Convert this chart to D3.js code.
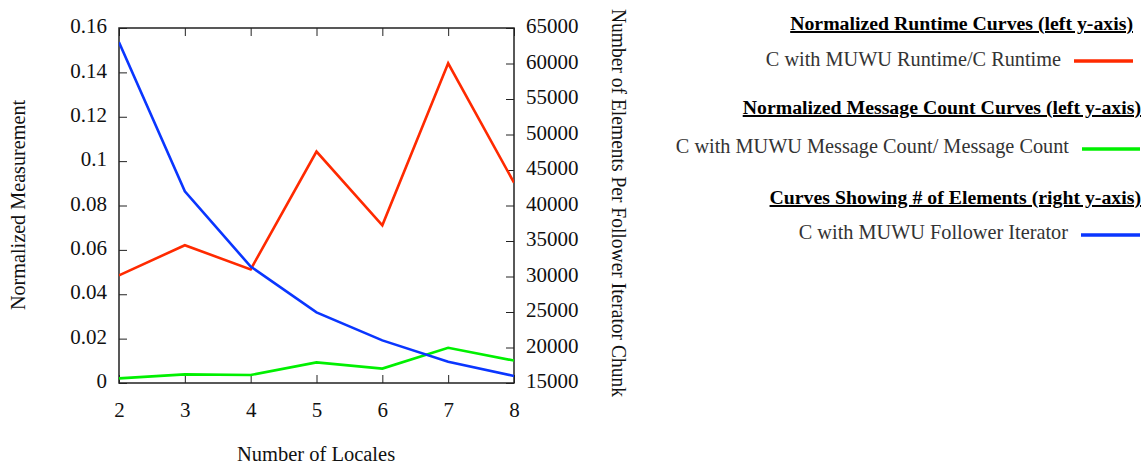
<!DOCTYPE html>
<html><head><meta charset="utf-8">
<script src="https://cdn.jsdelivr.net/npm/d3@7"></script>
<style>body{margin:0;background:#fff}svg{display:block}text{font-family:"Liberation Serif","Times New Roman",serif}</style>
</head><body><svg id="c" width="1143" height="465"></svg>
<script>
const locales = [2, 3, 4, 5, 6, 7, 8];
const runtimeRatio = [0.0485, 0.0621, 0.0512, 0.1043, 0.0711, 0.1441, 0.0903];
const messageRatio = [0.0021, 0.0039, 0.0036, 0.0093, 0.0065, 0.0159, 0.0101];
const followerElems = [63000, 42000, 31400, 24950, 21000, 18000, 15990];
const leftTicks = [0, 0.02, 0.04, 0.06, 0.08, 0.1, 0.12, 0.14, 0.16];
const rightTicks = [15000, 20000, 25000, 30000, 35000, 40000, 45000, 50000, 55000, 60000, 65000];
const legendGroups = [
  {title: "Normalized Runtime Curves (left y-axis)", label: "C with MUWU Runtime/C Runtime", color: "#ff2a00"},
  {title: "Normalized Message Count Curves (left y-axis)", label: "C with MUWU Message Count/ Message Count", color: "#00f000"},
  {title: "Curves Showing # of Elements (right y-axis)", label: "C with MUWU Follower Iterator", color: "#0a36ff"}
];

const svg = d3.select("#c");
const L = 119, R = 514, T = 28, B = 383;
const x = d3.scaleLinear().domain([2, 8]).range([L, R]);
const yL = d3.scaleLinear().domain([0, 0.16]).range([B, T]);
const yR = d3.scaleLinear().domain([15000, 65000]).range([B, T]);
const fs = 21;

// axes with inward ticks
const gB = svg.append("g").attr("transform", `translate(0,${B})`)
  .call(d3.axisBottom(x).tickValues(locales).tickFormat(d3.format("d")).tickSizeInner(-8).tickSizeOuter(0).tickPadding(19));
const gT = svg.append("g").attr("transform", `translate(0,${T})`)
  .call(d3.axisTop(x).tickValues(locales).tickFormat("").tickSizeInner(-8).tickSizeOuter(0));
const gL = svg.append("g").attr("transform", `translate(${L},0)`)
  .call(d3.axisLeft(yL).tickValues(leftTicks).tickFormat(d => d === 0 ? "0" : String(+d.toFixed(2))).tickSizeInner(-8).tickSizeOuter(0).tickPadding(12));
const gR = svg.append("g").attr("transform", `translate(${R},0)`)
  .call(d3.axisRight(yR).tickValues(rightTicks).tickFormat(d3.format("d")).tickSizeInner(-8).tickSizeOuter(0).tickPadding(12));
[gB, gT, gL, gR].forEach(g => {
  g.selectAll(".domain").attr("stroke", "none");
  g.selectAll(".tick line").attr("stroke", "#222").attr("stroke-width", 1);
  g.selectAll(".tick text").attr("font-size", fs).attr("fill", "#111").attr("font-family", "Liberation Serif");
});
gL.selectAll(".tick text").attr("dy", "0.22em");
gR.selectAll(".tick text").attr("dy", "0.22em");

svg.append("rect").attr("x", L).attr("y", T).attr("width", R - L).attr("height", B - T)
  .attr("fill", "none").attr("stroke", "#222").attr("stroke-width", 1.5);

svg.append("clipPath").attr("id", "pc").append("rect")
  .attr("x", L).attr("y", T).attr("width", R - L).attr("height", B - T);

const plot = svg.append("g").attr("clip-path", "url(#pc)");
const lineL = d3.line().x((d, i) => x(locales[i])).y(d => yL(d));
const lineR = d3.line().x((d, i) => x(locales[i])).y(d => yR(d));
plot.append("path").attr("d", lineL(messageRatio)).attr("fill", "none").attr("stroke", legendGroups[1].color).attr("stroke-width", 2.6);
plot.append("path").attr("d", lineL(runtimeRatio)).attr("fill", "none").attr("stroke", legendGroups[0].color).attr("stroke-width", 2.6);
plot.append("path").attr("d", lineR(followerElems)).attr("fill", "none").attr("stroke", legendGroups[2].color).attr("stroke-width", 2.6);

// axis titles
svg.append("text").attr("transform", `translate(25,205) rotate(-90)`).attr("text-anchor", "middle")
  .attr("font-size", 20.2).attr("fill", "#111").text("Normalized Measurement");
svg.append("text").attr("transform", `translate(612,203) rotate(90)`).attr("text-anchor", "middle")
  .attr("font-size", 20).attr("fill", "#111")
  .attr("textLength", 388).attr("lengthAdjust", "spacingAndGlyphs")
  .text("Number of Elements Per Follower Iterator Chunk");
svg.append("text").attr("x", 316).attr("y", 461).attr("text-anchor", "middle")
  .attr("font-size", 20.5).attr("fill", "#111").text("Number of Locales");

// legend
const titleY = [30, 114, 204];
const titleRight = [1133, 1141, 1141];
const itemY = [66, 153, 239];
const itemRight = [1061, 1069, 1068];
const lineX = [[1074, 1133], [1082, 1140], [1081, 1140]];
const lineY = [61, 149, 235];
legendGroups.forEach((g, i) => {
  svg.append("text").attr("x", titleRight[i]).attr("y", titleY[i]).attr("text-anchor", "end")
    .attr("font-size", 19.8).attr("font-weight", "bold").attr("text-decoration", "underline").attr("fill", "#000").text(g.title);
  svg.append("text").attr("x", itemRight[i]).attr("y", itemY[i]).attr("text-anchor", "end")
    .attr("font-size", 20.3).attr("fill", "#333").text(g.label);
  svg.append("line").attr("x1", lineX[i][0]).attr("x2", lineX[i][1])
    .attr("y1", lineY[i]).attr("y2", lineY[i]).attr("stroke", g.color).attr("stroke-width", 3.5);
});
</script></body></html>
